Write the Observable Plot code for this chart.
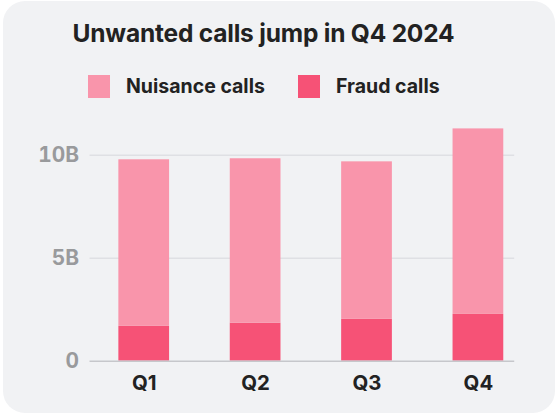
<!DOCTYPE html>
<html>
<head>
<meta charset="utf-8">
<script src="https://cdn.jsdelivr.net/npm/d3@7"></script>
<script src="https://cdn.jsdelivr.net/npm/@observablehq/plot@0.6"></script>
<style>
  html, body { margin: 0; padding: 0; background: #ffffff; }
  body { width: 558px; height: 414px; position: relative; overflow: hidden; font-family: Inter, "Noto Sans", sans-serif; }
  #card { position: absolute; left: 3px; top: 1px; width: 552px; height: 412px; background: #f1f2f4; border-radius: 22px; }
  #title { position: absolute; left: 0; top: 17px; width: 521px; text-align: center; font-size: 24.5px; font-weight: 700; color: #222; letter-spacing: -0.2px; }
  .leg { position: absolute; top: 73px; display: flex; align-items: center; font-size: 19.5px; font-weight: 700; color: #222; }
  .sw { width: 22px; height: 23px; margin-right: 16px; }
  #plot { position: absolute; left: -3px; top: 109px; }
</style>
</head>
<body>
<div id="card">
  <div id="title">Unwanted calls jump in Q4 2024</div>
  <div class="leg" style="left:85px"><div class="sw" style="background:#f995ab"></div><span>Nuisance calls</span></div>
  <div class="leg" style="left:295px"><div class="sw" style="background:#f65276"></div><span>Fraud calls</span></div>
  <div id="plot"></div>
</div>
<script>
const quarters = ["Q1", "Q2", "Q3", "Q4"];
const fraudCalls = [1.69, 1.84, 2.03, 2.27];      // billions
const nuisanceCalls = [8.09, 7.99, 7.65, 9.01];   // billions
const seriesNames = ["Fraud calls", "Nuisance calls"];
const seriesColors = ["#f65276", "#f995ab"];
const yTicks = [0, 5, 10];
const yTickLabels = ["0", "5B", "10B"];

const data = [];
quarters.forEach((q, i) => {
  data.push({quarter: q, series: seriesNames[0], value: fraudCalls[i]});
  data.push({quarter: q, series: seriesNames[1], value: nuisanceCalls[i]});
});

const chart = Plot.plot({
  width: 558,
  height: 300,
  marginLeft: 90,
  marginRight: 41,
  marginTop: 10,
  marginBottom: 49,
  style: {background: "transparent", fontFamily: "Inter, 'Noto Sans', sans-serif", overflow: "visible"},
  x: {domain: quarters, range: [118, 506], paddingInner: 0.546, paddingOuter: 0, label: null},
  y: {domain: [0, 10], range: [252, 45], label: null},
  color: {domain: seriesNames, range: seriesColors},
  marks: [
    Plot.ruleY(yTicks.slice(1), {stroke: "#dfe0e4", strokeWidth: 1.5}),
    Plot.barY(data, Plot.stackY({x: "quarter", y: "value", fill: "series", order: seriesNames})),
    Plot.ruleY([0], {stroke: "#c6c7cb", strokeWidth: 1.5}),
    Plot.axisY({ticks: yTicks, tickFormat: (d) => yTickLabels[yTicks.indexOf(d)], tickSize: 0, tickPadding: 11, fontSize: 21, fontWeight: 700, fill: "#999a9c", label: null}),
    Plot.axisX({tickSize: 0, tickPadding: 15, fontSize: 20.5, fontWeight: 700, fill: "#222", label: null})
  ]
});
document.getElementById("plot").appendChild(chart);
</script>
</body>
</html>
